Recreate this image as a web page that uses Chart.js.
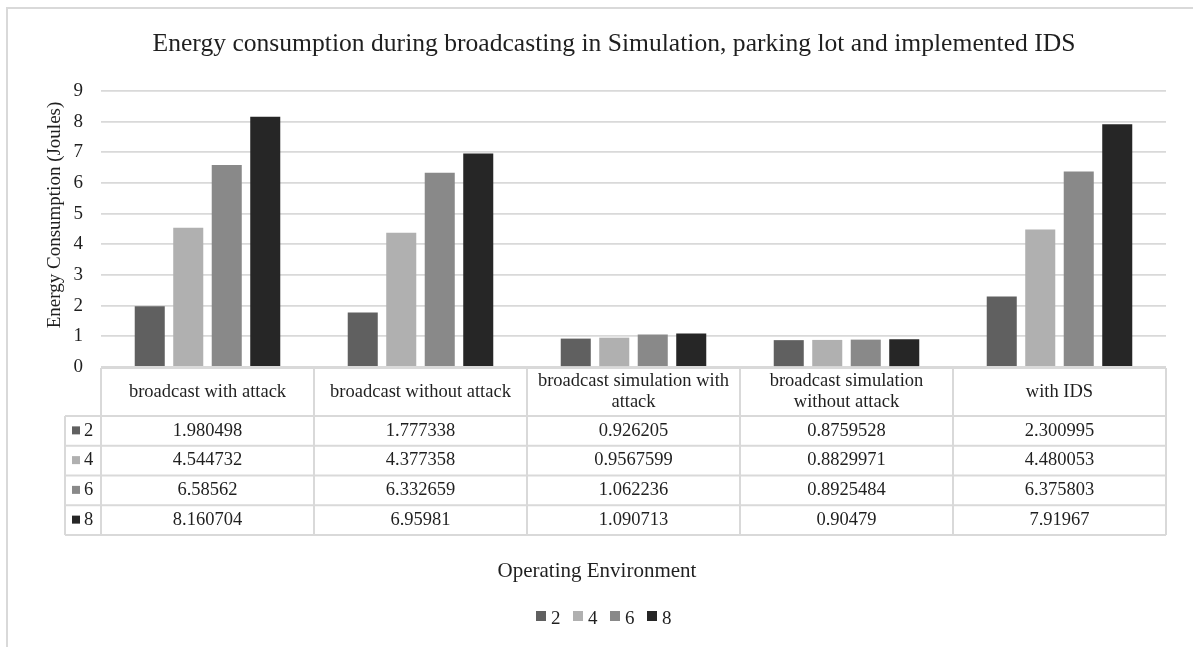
<!DOCTYPE html>
<html>
<head>
<meta charset="utf-8">
<script src="https://cdn.jsdelivr.net/npm/chart.js@4/dist/chart.umd.min.js"></script>
<style>
  html, body { margin: 0; padding: 0; background: #ffffff; }
  #wrap { width: 1193px; height: 647px; }
</style>
</head>
<body>
<div id="wrap"><canvas id="chart" width="1193" height="647"></canvas></div>
<script>
// Operating environments (x categories)
const categories = [
  'broadcast with attack',
  'broadcast without attack',
  'broadcast simulation with attack',
  'broadcast simulation without attack',
  'with IDS'
];

// Series: energy consumption (Joules) per vehicle count
const seriesNames = ['2', '4', '6', '8'];
const values2 = [1.980498, 1.777338, 0.926205, 0.8759528, 2.300995];
const values4 = [4.544732, 4.377358, 0.9567599, 0.8829971, 4.480053];
const values6 = [6.58562, 6.332659, 1.062236, 0.8925484, 6.375803];
const values8 = [8.160704, 6.95981, 1.090713, 0.90479, 7.91967];

const yTicks = [0, 1, 2, 3, 4, 5, 6, 7, 8, 9];

const chartTitle = 'Energy consumption during broadcasting in Simulation, parking lot and implemented IDS';
const yTitle = 'Energy Consumption (Joules)';
const xTitle = 'Operating Environment';

const seriesColors = ['#606060', '#b0b0b0', '#898989', '#262626'];
const seriesValues = [values2, values4, values6, values8];

const SERIF = '"Liberation Serif", "Times New Roman", serif';
const TEXT = '#1f1f1f';
const LINE = '#d9d9d9';

function wrapWords(ctx, text, maxWidth) {
  const words = text.split(' ');
  const lines = [];
  let cur = '';
  for (const w of words) {
    const test = cur ? cur + ' ' + w : w;
    if (ctx.measureText(test).width > maxWidth && cur) {
      lines.push(cur);
      cur = w;
    } else {
      cur = test;
    }
  }
  if (cur) lines.push(cur);
  return lines;
}

// Frame, titles, data table and legend around the plot
const decorations = {
  id: 'decorations',
  beforeDraw(chart) {
    const ctx = chart.ctx;
    ctx.save();
    ctx.fillStyle = '#ffffff';
    ctx.fillRect(0, 0, chart.width, chart.height);
    ctx.strokeStyle = LINE;
    ctx.lineWidth = 2;
    ctx.strokeRect(7, 8, 1240, 700);
    ctx.restore();
  },
  afterDraw(chart) {
    const ctx = chart.ctx;
    const area = chart.chartArea;
    const x = chart.scales.x;
    ctx.save();

    // Chart title
    ctx.fillStyle = TEXT;
    ctx.font = '25.6px ' + SERIF;
    ctx.textAlign = 'center';
    ctx.textBaseline = 'alphabetic';
    ctx.fillText(chartTitle, 614, 51);

    // Y axis title
    ctx.save();
    ctx.translate(55, 215);
    ctx.rotate(-Math.PI / 2);
    ctx.font = '19px ' + SERIF;
    ctx.textBaseline = 'middle';
    ctx.fillText(yTitle, 0, 0);
    ctx.restore();

    // Data table
    const tableTop = area.bottom + 1;
    const headerH = 48;
    const rowH = 29.75;
    const keyLeft = 65;
    const left = area.left;
    const right = area.right;
    const n = categories.length;
    const colW = (right - left) / n;
    const bottom = tableTop + headerH + rowH * seriesNames.length;

    ctx.strokeStyle = LINE;
    ctx.lineWidth = 2;
    ctx.beginPath();
    ctx.moveTo(left, tableTop); ctx.lineTo(right, tableTop);
    for (let r = 0; r <= seriesNames.length; r++) {
      const y = tableTop + headerH + r * rowH;
      ctx.moveTo(keyLeft, y); ctx.lineTo(right, y);
    }
    for (let c = 0; c <= n; c++) {
      const xx = left + c * colW;
      ctx.moveTo(xx, tableTop); ctx.lineTo(xx, bottom);
    }
    ctx.moveTo(keyLeft, tableTop + headerH); ctx.lineTo(keyLeft, bottom);
    ctx.stroke();

    ctx.fillStyle = TEXT;
    ctx.font = '18.5px ' + SERIF;
    ctx.textAlign = 'center';
    ctx.textBaseline = 'middle';
    const lineH = 21;
    categories.forEach((cat, i) => {
      const cx = x.getPixelForValue(i);
      const lines = wrapWords(ctx, cat, colW - 14);
      const midY = tableTop + headerH / 2;
      const startY = midY - (lines.length - 1) * lineH / 2;
      lines.forEach((ln, k) => ctx.fillText(ln, cx, startY + k * lineH));
    });

    seriesNames.forEach((name, r) => {
      const cy = tableTop + headerH + r * rowH + rowH / 2;
      ctx.fillStyle = seriesColors[r];
      ctx.fillRect(72, cy - 4.5, 8, 8);
      ctx.fillStyle = TEXT;
      ctx.textAlign = 'left';
      ctx.fillText(name, 84, cy);
      ctx.textAlign = 'center';
      seriesValues[r].forEach((v, i) => {
        ctx.fillText(String(v), x.getPixelForValue(i), cy);
      });
    });

    // X axis title
    ctx.font = '21px ' + SERIF;
    ctx.textBaseline = 'alphabetic';
    ctx.fillText(xTitle, 597, 577);

    // Legend
    ctx.font = '19px ' + SERIF;
    ctx.textAlign = 'left';
    let lx = 536;
    seriesNames.forEach((name, r) => {
      ctx.fillStyle = seriesColors[r];
      ctx.fillRect(lx, 611, 10, 10);
      ctx.fillStyle = TEXT;
      ctx.fillText(name, lx + 15, 624);
      lx += 37;
    });

    ctx.restore();
  }
};

new Chart(document.getElementById('chart'), {
  type: 'bar',
  data: {
    labels: categories,
    datasets: seriesNames.map((name, i) => ({
      label: name,
      data: seriesValues[i],
      backgroundColor: seriesColors[i],
      borderWidth: 0,
      categoryPercentage: 0.723,
      barPercentage: 0.78
    }))
  },
  options: {
    responsive: false,
    devicePixelRatio: 1,
    animation: false,
    layout: { padding: { left: 0, top: 91, right: 27, bottom: 280 } },
    plugins: {
      legend: { display: false },
      title: { display: false },
      tooltip: { enabled: false }
    },
    scales: {
      x: { display: false },
      y: {
        min: 0,
        max: 9,
        afterFit(scale) { scale.width = 101; },
        afterBuildTicks(scale) { scale.ticks = yTicks.map(v => ({ value: v })); },
        border: { display: false },
        grid: { color: LINE, lineWidth: 1.8, drawTicks: false },
        ticks: {
          padding: 18,
          color: TEXT,
          font: { family: SERIF, size: 19 }
        }
      }
    }
  },
  plugins: [decorations]
});
</script>
</body>
</html>
